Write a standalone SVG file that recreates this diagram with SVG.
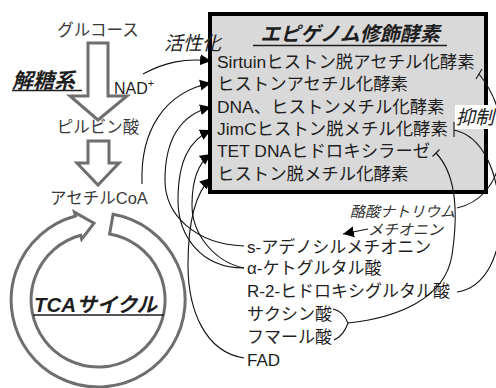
<svg xmlns="http://www.w3.org/2000/svg" width="496" height="388" viewBox="0 0 496 388">
<style>
text{font-family:"Liberation Sans","Noto Sans CJK JP",sans-serif;fill:#1e1e1e}
.lt{font-size:16.5px;fill:#3a3a3a}
.row{font-size:17.4px}
.bot{font-size:17px}
.it{font-style:italic;font-size:15px;fill:#333}
.it19{font-style:italic;font-size:19px;fill:#222}
.bi{font-style:italic;font-weight:bold}
.hollow{fill:#fff;stroke:#6e6e6e;stroke-width:3;stroke-linejoin:miter}
.con{fill:none;stroke:#111;stroke-width:1.1}
.ul{stroke:#1e1e1e;stroke-width:1.5}
</style>
<defs>
<marker id="ah" markerUnits="userSpaceOnUse" markerWidth="12" markerHeight="12" refX="11" refY="6" orient="auto">
<path d="M0,0.5 L11,6 L0,11.5 z" fill="#000"/>
</marker>
</defs>
<rect width="496" height="388" fill="#fff"/>

<g id="glycolysis">
<text class="lt" x="98" y="36" text-anchor="middle">グルコース</text>
<path class="hollow" d="M88,43 H108 V96 H127 L98,120 L70,96 H88 Z"/>
<text class="bi" x="12" y="88" font-size="21">解糖系</text>
<line class="ul" x1="12" y1="90.5" x2="82" y2="90.5"/>
<text x="114" y="94" font-size="16" fill="#333">NAD<tspan font-size="11" dy="-7">+</tspan></text>
<text class="lt" x="98" y="133" text-anchor="middle">ピルビン酸</text>
<path class="hollow" d="M88,141 H109 V163 H119 L98,185 L77,163 H88 Z"/>
<text class="lt" x="99" y="204" text-anchor="middle">アセチルCoA</text>
</g>

<g id="tca">
<path class="hollow" d="M113.1,214.3 A87,87 0 1 1 75.5,216 L74.4,212.1 L94,223.1 L81.7,239.1 L80.7,235.3 A67,67 0 1 0 109.6,234 Z"/>
<text class="bi" x="34" y="312" font-size="20.5">TCAサイクル</text>
<line class="ul" x1="33" y1="315" x2="164" y2="315"/>
</g>

<g id="enzymes">
<rect x="210" y="14" width="276" height="178" fill="#d9d9d9" stroke="#000" stroke-width="4"/>
<text class="bi" x="350" y="41" font-size="20" text-anchor="middle">エピゲノム修飾酵素</text>
<line class="ul" x1="253" y1="45.5" x2="447" y2="45.5"/>
<text class="row" x="217" y="68">Sirtuinヒストン脱アセチル化酵素</text>
<text class="row" x="217" y="90">ヒストンアセチル化酵素</text>
<text class="row" x="217" y="113">DNA、ヒストンメチル化酵素</text>
<text class="row" x="217" y="135">JimCヒストン脱メチル化酵素</text>
<text class="row" x="217" y="157">TET DNAヒドロキシラーゼ</text>
<text class="row" x="217" y="180">ヒストン脱メチル化酵素</text>
</g>

<g id="labels">
<text class="it19" x="164" y="50">活性化</text>
<text class="it" x="350" y="217">酪酸ナトリウム</text>
<text class="it" x="368" y="235">メチオニン</text>
</g>

<g id="metabolites">
<text class="bot" x="247" y="253">s-アデノシルメチオニン</text>
<text class="bot" x="247" y="274">α-ケトグルタル酸</text>
<text class="bot" x="247" y="297">R-2-ヒドロキシグルタル酸</text>
<text class="bot" x="247" y="320">サクシン酸</text>
<text class="bot" x="247" y="343">フマール酸</text>
<text class="bot" x="247" y="366">FAD</text>
</g>

<g id="connectors">
<path class="con" marker-end="url(#ah)" d="M143,74 C165,62 185,58 211,61"/>
<path class="con" marker-end="url(#ah)" d="M142,184 C140,130 165,92 211,83"/>
<path class="con" marker-end="url(#ah)" d="M244,246 C195,244 165,215 165,180 C165,140 180,115 211,107"/>
<path class="con" marker-end="url(#ah)" d="M244,268 C200,268 178,235 178,200 C178,160 190,140 211,130"/>
<path class="con" marker-end="url(#ah)" d="M244,268 C215,262 192,235 192,205 C192,180 198,163 211,154"/>
<path class="con" marker-end="url(#ah)" d="M244,358 C205,352 188,310 188,265 C188,220 196,192 211,178"/>
<path class="con" marker-end="url(#ah)" d="M368,229 L343,234"/>
<path class="con" d="M457,208 C480,203 495,185 500,160 C505,130 500,100 479,74"/>
<line class="con" x1="476" y1="79" x2="482" y2="69"/>
<path class="con" d="M457,292 C485,288 502,255 500,215 C498,170 482,136 454,130"/>
<line class="con" x1="454" y1="122" x2="454" y2="137"/>
<path class="con" d="M333,309 C342,311 346,318 348,323 C346,329 343,336 334,340"/>
<path class="con" d="M348,323 C395,318 445,300 452,255 C458,215 457,175 436,153"/>
<line class="con" x1="432.5" y1="156.5" x2="439.5" y2="149.5"/>
</g>

<g id="inhibit-label">
<rect x="455" y="105" width="41" height="24" fill="#fff"/>
<text class="it19" x="456" y="124">抑制</text>
</g>
</svg>
